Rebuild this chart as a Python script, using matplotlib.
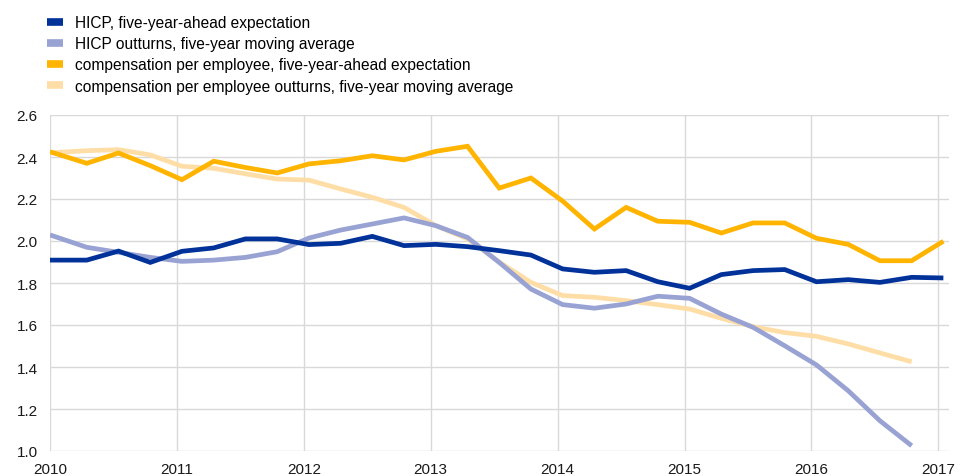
import matplotlib
matplotlib.use("Agg")
import matplotlib.pyplot as plt
from matplotlib.lines import Line2D
import numpy as np

plt.rcParams['font.family'] = ['Liberation Sans', 'DejaVu Sans']

# x positions: survey dates as year fractions (first point at start of 2010, then quarterly)
dates = [2010.0] + [2010.04 + 0.25 * k for k in range(1, 29)]

hicp_exp = [1.909, 1.909, 1.952, 1.898, 1.951, 1.967, 2.010, 2.010, 1.983, 1.989,
            2.022, 1.978, 1.984, 1.973, 1.954, 1.933, 1.867, 1.851, 1.859, 1.806,
            1.775, 1.840, 1.859, 1.864, 1.806, 1.816, 1.803, 1.827, 1.824]
hicp_out = [2.029, 1.970, 1.946, 1.922, 1.903, 1.909, 1.922, 1.949, 2.014, 2.052,
            2.081, 2.110, 2.073, 2.017, 1.898, 1.771, 1.697, 1.680, 1.700, 1.737,
            1.727, 1.652, 1.589, 1.501, 1.410, 1.287, 1.144, 1.025]
cpe_exp = [2.425, 2.370, 2.419, 2.359, 2.292, 2.380, 2.350, 2.324, 2.367, 2.382,
           2.406, 2.386, 2.427, 2.451, 2.252, 2.300, 2.190, 2.057, 2.160, 2.094,
           2.089, 2.038, 2.086, 2.086, 2.013, 1.984, 1.906, 1.906, 1.999]
cpe_out = [2.420, 2.430, 2.435, 2.410, 2.356, 2.346, 2.320, 2.295, 2.290, 2.248,
           2.208, 2.160, 2.073, 2.010, 1.900, 1.803, 1.740, 1.732, 1.716, 1.697,
           1.676, 1.632, 1.592, 1.564, 1.546, 1.510, 1.467, 1.425]

labels = ["HICP, five-year-ahead expectation",
          "HICP outturns, five-year moving average",
          "compensation per employee, five-year-ahead expectation",
          "compensation per employee outturns, five-year moving average"]
colors = ["#003299", "#98A2D3", "#FFB400", "#FEDEA6"]

year_ticks = [2010, 2011, 2012, 2013, 2014, 2015, 2016, 2017]
y_ticks = [1.0, 1.2, 1.4, 1.6, 1.8, 2.0, 2.2, 2.4, 2.6]

fig = plt.figure(figsize=(9.63, 4.77), dpi=100)
ax = fig.add_axes([50 / 963, 1 - 452 / 477, (949 - 50) / 963, (452 - 116) / 477])

series = [hicp_exp, hicp_out, cpe_exp, cpe_out]
for i in [3, 1, 0, 2]:
    s = series[i]
    ax.plot(dates[:len(s)], s, color=colors[i], lw=3.4, solid_joinstyle='miter',
            solid_capstyle='butt', zorder=3 + (1 if i in (0, 2) else 0))

ax.set_xlim(2010, 2010 + (949 - 50) / 126.9)
ax.set_ylim(1.0, 2.6)
ax.set_xticks(year_ticks)
ax.set_xticklabels([str(y) for y in year_ticks])
ax.set_yticks(y_ticks)
ax.set_yticklabels([f"{v:.1f}" for v in y_ticks])
ax.grid(True, color="#D9D9D9", lw=1.0)
ax.set_axisbelow(True)
for sp in ax.spines.values():
    sp.set_visible(False)
ax.tick_params(length=0, labelsize=11, colors="#1a1a1a")
ax.tick_params(axis='y', pad=9)
ax.tick_params(axis='x', pad=8)

handles = [Line2D([0], [0], color=c, lw=5.5, solid_capstyle='butt') for c in colors]
fig.legend(handles, labels, loc='upper left', bbox_to_anchor=(47 / 963, 1 - 16 / 477),
           frameon=False, fontsize=11.2, handlelength=1.05, handletextpad=0.72,
           labelspacing=0.40, borderaxespad=0, borderpad=0.0)

fig.savefig("out.png", dpi=100)
